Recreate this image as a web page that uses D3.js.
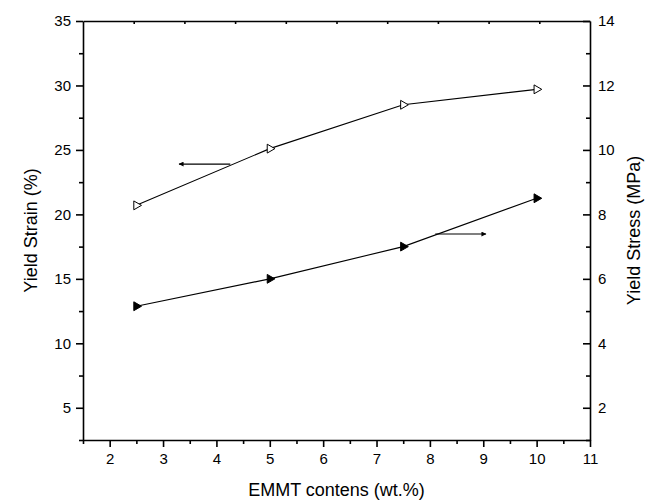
<!DOCTYPE html>
<html>
<head>
<meta charset="utf-8">
<script src="https://cdn.jsdelivr.net/npm/d3@7"></script>
<style>
  html, body { margin: 0; padding: 0; background: #fff; }
  svg { display: block; font-family: "Liberation Sans", Arial, sans-serif; }
</style>
</head>
<body>
<svg id="chart" width="655" height="500"></svg>
<script>
// EMMT content (wt.%)
const contents = [2.5, 5, 7.5, 10];
// Yield strain (%), left axis
const yieldStrain = [20.7, 25.1, 28.5, 29.7];
// Yield stress (MPa), right axis
const yieldStress = [5.15, 6.0, 7.0, 8.5];

const xTicks = [2, 3, 4, 5, 6, 7, 8, 9, 10, 11];
const xMinorTicks = [1.5, 2.5, 3.5, 4.5, 5.5, 6.5, 7.5, 8.5, 9.5, 10.5];
const leftTicks = [5, 10, 15, 20, 25, 30, 35];
const leftMinorTicks = [2.5, 7.5, 12.5, 17.5, 22.5, 27.5, 32.5];
const rightTicks = [2, 4, 6, 8, 10, 12, 14];
const rightMinorTicks = [1, 3, 5, 7, 9, 11, 13];
const topMinorTicks = [1, 2, 3, 4, 5, 6, 7, 8, 9];

// Pointer arrows: [x0, y0] -> [x1, y1] in data units of the axis each points to
const strainArrow = { from: [4.26, 23.9], to: [3.3, 23.9] };
const stressArrow = { from: [8.1, 7.39], to: [9.05, 7.39] };

const svg = d3.select("#chart");
const plotLeft = 83, plotRight = 590, plotTop = 21, plotBottom = 440;

const x = d3.scaleLinear().domain([1.5, 11]).range([plotLeft, plotRight]);
const yL = d3.scaleLinear().domain([2.5, 35]).range([plotBottom, plotTop]);
const yR = d3.scaleLinear().domain([1, 14]).range([plotBottom, plotTop]);
const xTop = d3.scaleLinear().domain([0, 10]).range([plotLeft, plotRight]);

const axisWidth = 1.6;
const tickFont = "15px";
const titleFont = "18px";

function styleAxis(g) {
  g.selectAll("path.domain").attr("stroke", "#000").attr("stroke-width", axisWidth);
  g.selectAll(".tick line").attr("stroke", "#000").attr("stroke-width", axisWidth);
  g.selectAll(".tick text").attr("fill", "#000").style("font-size", tickFont)
    .style("font-family", '"Liberation Sans", Arial, sans-serif');
}

// Bottom axis
const gx = svg.append("g").attr("transform", `translate(0,${plotBottom})`)
  .call(d3.axisBottom(x).tickValues(xTicks).tickSize(7).tickPadding(6).tickSizeOuter(0).tickFormat(d3.format("d")));
styleAxis(gx);
svg.append("g").attr("transform", `translate(0,${plotBottom})`)
  .call(d3.axisBottom(x).tickValues(xMinorTicks).tickSize(4).tickSizeOuter(0).tickFormat(""))
  .call(g => g.select("path.domain").remove())
  .call(styleAxis);

// Top axis (minor ticks pointing inward)
svg.append("g").attr("transform", `translate(0,${plotTop})`)
  .call(d3.axisBottom(xTop).tickValues(topMinorTicks).tickSize(3).tickSizeOuter(0).tickFormat(""))
  .call(styleAxis);

// Left axis
const gl = svg.append("g").attr("transform", `translate(${plotLeft},0)`)
  .call(d3.axisLeft(yL).tickValues(leftTicks).tickSize(7).tickPadding(5).tickSizeOuter(0).tickFormat(d3.format("d")));
styleAxis(gl);
svg.append("g").attr("transform", `translate(${plotLeft},0)`)
  .call(d3.axisLeft(yL).tickValues(leftMinorTicks).tickSize(4).tickSizeOuter(0).tickFormat(""))
  .call(g => g.select("path.domain").remove())
  .call(styleAxis);

// Right axis (ticks pointing inward, labels outside)
const gr = svg.append("g").attr("transform", `translate(${plotRight},0)`)
  .call(d3.axisLeft(yR).tickValues(rightTicks).tickSize(7).tickSizeOuter(0).tickFormat(d3.format("d")));
styleAxis(gr);
gr.selectAll(".tick text").attr("x", 8).attr("text-anchor", "start");
svg.append("g").attr("transform", `translate(${plotRight},0)`)
  .call(d3.axisLeft(yR).tickValues(rightMinorTicks).tickSize(4).tickSizeOuter(0).tickFormat(""))
  .call(g => g.select("path.domain").remove())
  .call(styleAxis);

// Axis titles
svg.append("text").attr("transform", `translate(37,${(plotTop + plotBottom) / 2}) rotate(-90)`)
  .attr("text-anchor", "middle").style("font-size", titleFont).text("Yield Strain (%)");
svg.append("text").attr("transform", `translate(640,${(plotTop + plotBottom) / 2}) rotate(-90)`)
  .attr("text-anchor", "middle").style("font-size", titleFont).text("Yield Stress (MPa)");
svg.append("text").attr("x", (plotLeft + plotRight) / 2).attr("y", 496)
  .attr("text-anchor", "middle").style("font-size", titleFont).text("EMMT contens (wt.%)");

// Series lines
const strainLine = d3.line().x((d, i) => x(contents[i])).y(d => yL(d));
const stressLine = d3.line().x((d, i) => x(contents[i])).y(d => yR(d));
svg.append("path").datum(yieldStrain).attr("d", strainLine)
  .attr("fill", "none").attr("stroke", "#000").attr("stroke-width", 1.1);
svg.append("path").datum(yieldStress).attr("d", stressLine)
  .attr("fill", "none").attr("stroke", "#000").attr("stroke-width", 1.1);

// Right-pointing triangle markers
const tri = d3.symbol().type(d3.symbolTriangle).size(34);
svg.append("g").selectAll("path").data(yieldStrain).join("path")
  .attr("d", tri)
  .attr("transform", (d, i) => `translate(${x(contents[i])},${yL(d)}) rotate(90)`)
  .attr("fill", "#fff").attr("stroke", "#000").attr("stroke-width", 1);
svg.append("g").selectAll("path").data(yieldStress).join("path")
  .attr("d", tri)
  .attr("transform", (d, i) => `translate(${x(contents[i])},${yR(d)}) rotate(90)`)
  .attr("fill", "#000").attr("stroke", "#000").attr("stroke-width", 1);

// Arrows showing which axis each series belongs to
svg.append("defs").append("marker")
  .attr("id", "head").attr("viewBox", "0 0 10 10").attr("refX", 9).attr("refY", 5)
  .attr("markerWidth", 7).attr("markerHeight", 5).attr("markerUnits", "userSpaceOnUse")
  .attr("orient", "auto")
  .append("path").attr("d", "M0,0 L10,5 L0,10 Z").attr("fill", "#000");

function arrow(a, yScale) {
  svg.append("line")
    .attr("x1", x(a.from[0])).attr("y1", yScale(a.from[1]))
    .attr("x2", x(a.to[0])).attr("y2", yScale(a.to[1]))
    .attr("stroke", "#000").attr("stroke-width", 1.1)
    .attr("marker-end", "url(#head)");
}
arrow(strainArrow, yL);
arrow(stressArrow, yR);
</script>
</body>
</html>
